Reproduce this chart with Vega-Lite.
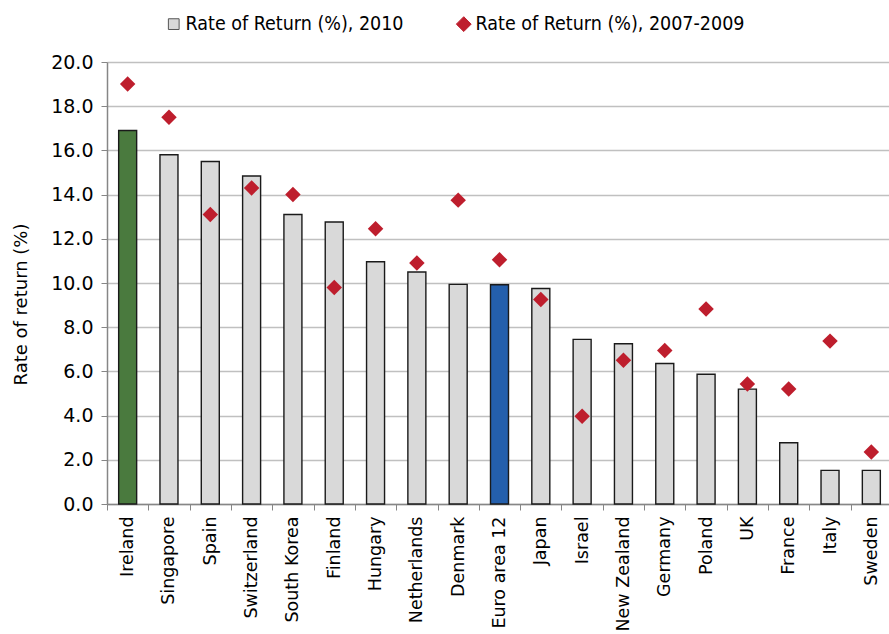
{
  "$schema": "https://vega.github.io/schema/vega-lite/v6.json",
  "autosize": {"type": "none"},
  "width": 785,
  "height": 442,
  "padding": {"left": 107, "top": 62, "right": 0, "bottom": 130},
  "background": "white",
  "config": {"view": {"stroke": null}, "font": "DejaVu Sans"},
  "data": {
    "values": [
      {"country": "Ireland", "r2010": 16.9, "r0709": 19.0, "group": "Ireland"},
      {"country": "Singapore", "r2010": 15.8, "r0709": 17.5, "group": "other"},
      {"country": "Spain", "r2010": 15.5, "r0709": 13.1, "group": "other"},
      {"country": "Switzerland", "r2010": 14.84, "r0709": 14.3, "group": "other"},
      {"country": "South Korea", "r2010": 13.1, "r0709": 14.0, "group": "other"},
      {"country": "Finland", "r2010": 12.76, "r0709": 9.8, "group": "other"},
      {"country": "Hungary", "r2010": 10.96, "r0709": 12.45, "group": "other"},
      {"country": "Netherlands", "r2010": 10.5, "r0709": 10.9, "group": "other"},
      {"country": "Denmark", "r2010": 9.94, "r0709": 13.75, "group": "other"},
      {"country": "Euro area 12", "r2010": 9.92, "r0709": 11.05, "group": "Euro"},
      {"country": "Japan", "r2010": 9.75, "r0709": 9.25, "group": "other"},
      {"country": "Israel", "r2010": 7.45, "r0709": 3.97, "group": "other"},
      {"country": "New Zealand", "r2010": 7.25, "r0709": 6.5, "group": "other"},
      {"country": "Germany", "r2010": 6.36, "r0709": 6.95, "group": "other"},
      {"country": "Poland", "r2010": 5.87, "r0709": 8.82, "group": "other"},
      {"country": "UK", "r2010": 5.2, "r0709": 5.43, "group": "other"},
      {"country": "France", "r2010": 2.77, "r0709": 5.2, "group": "other"},
      {"country": "Italy", "r2010": 1.52, "r0709": 7.37, "group": "other"},
      {"country": "Sweden", "r2010": 1.52, "r0709": 2.35, "group": "other"}
    ]
  },
  "encoding": {
    "x": {
      "field": "country",
      "type": "nominal",
      "sort": null,
      "title": null,
      "scale": {"paddingInner": 0, "paddingOuter": 0},
      "axis": {
        "labelAngle": -90,
        "labelFontSize": 17.5,
        "labelColor": "#000000",
        "labelPadding": 6,
        "tickBand": "extent",
        "tickSize": 6,
        "tickColor": "#868686",
        "domainColor": "#868686",
        "domainWidth": 1.5,
        "labelLimit": 300
      }
    }
  },
  "layer": [
    {
      "mark": {"type": "bar", "size": 18, "stroke": "#1a1a1a", "strokeWidth": 1.4},
      "encoding": {
        "y": {
          "field": "r2010",
          "type": "quantitative",
          "scale": {"domain": [0, 20]},
          "title": "Rate of return  (%)",
          "axis": {
            "values": [0, 2, 4, 6, 8, 10, 12, 14, 16, 18, 20],
            "format": ".1f",
            "grid": true,
            "gridColor": "#c0c0c0",
            "gridWidth": 1.5,
            "tickColor": "#868686",
            "tickSize": 6,
            "domainColor": "#868686",
            "domainWidth": 1.5,
            "labelFontSize": 19,
            "labelColor": "#000000",
            "labelPadding": 8,
            "titleFontSize": 18,
            "titleFontWeight": "normal",
            "titleColor": "#000000",
            "titlePadding": 20,
            "titleY": 242
          }
        },
        "fill": {
          "field": "group",
          "type": "nominal",
          "scale": {"domain": ["other", "Ireland", "Euro"], "range": ["#d9d9d9", "#4a7a3e", "#245fac"]},
          "legend": null
        }
      }
    },
    {
      "mark": {"type": "point", "shape": "diamond", "filled": true, "size": 240, "opacity": 1},
      "encoding": {
        "y": {"field": "r0709", "type": "quantitative"},
        "color": {
          "datum": "Rate of Return  (%), 2007-2009",
          "type": "nominal",
          "scale": {
            "domain": ["Rate of Return  (%), 2010", "Rate of Return  (%), 2007-2009"],
            "range": ["#d9d9d9", "#be1e2d"]
          },
          "legend": {
            "title": null,
            "orient": "none",
            "direction": "horizontal",
            "legendX": 57,
            "legendY": -48,
            "labelFont": "DejaVu Sans Condensed",
            "labelFontSize": 19.5,
            "labelColor": "#000000",
            "labelOffset": 2,
            "labelLimit": 400,
            "columnPadding": 44,
            "symbolSize": 150,
            "symbolOpacity": 1,
            "encode": {
              "symbols": {
                "update": {
                  "shape": {"signal": "datum.value === 'Rate of Return  (%), 2010' ? 'square' : 'diamond'"},
                  "size": {"signal": "datum.value === 'Rate of Return  (%), 2010' ? 115 : 220"},
                  "stroke": {"signal": "datum.value === 'Rate of Return  (%), 2010' ? '#555555' : '#be1e2d'"},
                  "strokeWidth": {"value": 1},
                  "opacity": {"value": 1}
                }
              }
            }
          }
        }
      }
    }
  ]
}
